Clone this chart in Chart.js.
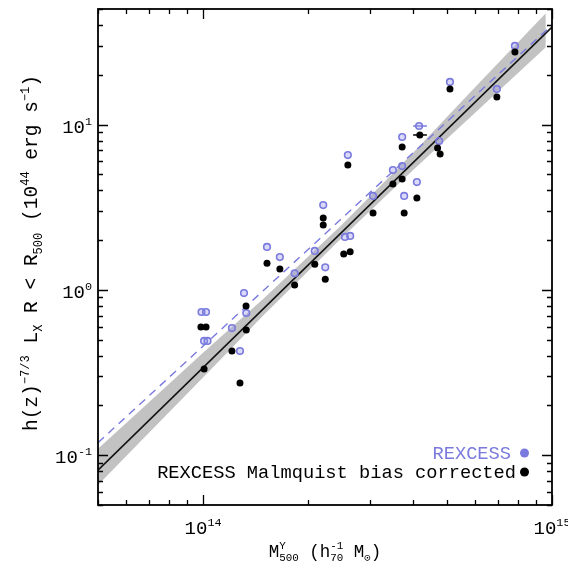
<!DOCTYPE html>
<html><head><meta charset="utf-8">
<script src="https://cdn.jsdelivr.net/npm/chart.js@4/dist/chart.umd.min.js"></script>
<style>html,body{margin:0;padding:0;background:#fff;}canvas{display:block;}</style>
</head><body>
<canvas id="c" width="568" height="565"></canvas>
<script>
// ---- data ----
const rexcessMass = [0.99e14, 1.02e14, 1.007e14, 1.03e14, 1.21e14, 1.276e14, 1.31e14, 1.33e14, 1.525e14, 1.66e14, 1.83e14, 2.09e14, 2.21e14, 2.24e14, 2.55e14, 2.64e14, 2.60e14, 3.07e14, 3.50e14, 3.72e14, 3.72e14, 4.16e14, 3.77e14, 4.10e14, 4.75e14, 5.10e14, 6.95e14, 7.83e14];
const rexcessLum  = [0.735, 0.735, 0.491, 0.491, 0.588, 0.427, 0.957, 0.725, 1.82, 1.58, 1.26, 1.72, 3.26, 1.37, 2.09, 2.12, 6.54, 3.70, 5.31, 5.61, 8.41, 9.80, 3.70, 4.49, 7.95, 18.1, 16.4, 29.9];
const correctedMass = [0.986e14, 1.02e14, 1.007e14, 1.21e14, 1.276e14, 1.328e14, 1.33e14, 1.525e14, 1.66e14, 1.83e14, 2.09e14, 2.21e14, 2.21e14, 2.24e14, 2.53e14, 2.64e14, 2.60e14, 3.07e14, 3.50e14, 3.72e14, 3.72e14, 4.18e14, 3.77e14, 4.10e14, 4.70e14, 4.78e14, 5.10e14, 6.95e14, 7.83e14];
const correctedLum  = [0.596, 0.596, 0.332, 0.427, 0.273, 0.798, 0.572, 1.45, 1.34, 1.07, 1.43, 2.72, 2.47, 1.16, 1.65, 1.70, 5.69, 2.92, 4.37, 4.69, 7.31, 8.65, 2.92, 3.60, 7.21, 6.63, 16.4, 14.7, 27.5];
// horizontal error bars (mass range) for one cluster
const errRexcess   = {mass: [4.0e14, 4.38e14], lum: 9.80};
const errCorrected = {mass: [4.0e14, 4.38e14], lum: 8.65};
// fitted relations
const fitMass = [5e13, 1e15];
const fitCorrectedLum = [0.0813, 38.9];
const fitRexcessLum = [0.119, 40.0];
// confidence band around the corrected fit
const bandMass  = [5e13, 7e13, 1e14, 1.5e14, 2.5e14, 4e14, 6e14, 9.6e14];
const bandUpper = [0.1096, 0.2094, 0.417, 0.897, 2.48, 6.76, 16.7, 47.1];
const bandLower = [0.0661, 0.1368, 0.295, 0.713, 2.07, 5.31, 11.7, 29.4];
// axis ticks
const xRange = [5e13, 1e15];
const yRange = [0.05, 50];
const xMajor = [{v: 1e14, base: '10', exp: '14'}, {v: 1e15, base: '10', exp: '15'}];
const yMajor = [{v: 0.1, base: '10', exp: '-1'}, {v: 1, base: '10', exp: '0'}, {v: 10, base: '10', exp: '1'}];
const legendLabels = ['REXCESS', 'REXCESS Malmquist bias corrected'];

const BLUE = '#7a7ade';
const FAM = '"Liberation Mono", monospace';

function pts(xs, ys) { return xs.map((x, i) => ({x: x, y: ys[i]})); }

function richWidth(ctx, segs, size) {
  let w = 0;
  for (const s of segs) {
    if (s.stack) {
      ctx.font = (size * 0.62) + 'px ' + FAM;
      w += Math.max(ctx.measureText(s.stack[0]).width, ctx.measureText(s.stack[1]).width);
    } else {
      ctx.font = ((s.sup || s.sub) ? size * 0.62 : size) + 'px ' + FAM;
      w += ctx.measureText(s.t).width;
    }
  }
  return w;
}
function drawRich(ctx, segs, x, y, align, size, color) {
  const w = richWidth(ctx, segs, size);
  let cx = align === 'center' ? x - w / 2 : (align === 'right' ? x - w : x);
  ctx.fillStyle = color; ctx.textAlign = 'left'; ctx.textBaseline = 'alphabetic';
  for (const s of segs) {
    if (s.stack) {
      ctx.font = (size * 0.62) + 'px ' + FAM;
      const w1 = ctx.measureText(s.stack[0]).width, w2 = ctx.measureText(s.stack[1]).width;
      ctx.fillText(s.stack[0], cx, y - size * 0.45);
      ctx.fillText(s.stack[1], cx, y + size * 0.25);
      cx += Math.max(w1, w2);
    } else if (s.sup) {
      ctx.font = (size * 0.62) + 'px ' + FAM;
      ctx.fillText(s.t, cx, y - size * 0.42);
      cx += ctx.measureText(s.t).width;
    } else if (s.sub) {
      ctx.font = (size * 0.62) + 'px ' + FAM;
      ctx.fillText(s.t, cx, y + size * 0.25);
      cx += ctx.measureText(s.t).width;
    } else {
      ctx.font = size + 'px ' + FAM;
      ctx.fillText(s.t, cx, y);
      cx += ctx.measureText(s.t).width;
    }
  }
}

function logTicks(min, max) {
  const out = [];
  for (let e = Math.floor(Math.log10(min)); e <= Math.ceil(Math.log10(max)); e++) {
    for (let k = 1; k <= 9; k++) {
      const v = k * Math.pow(10, e);
      if (v >= min * 0.9999 && v <= max * 1.0001) out.push({v: v, major: k === 1});
    }
  }
  return out;
}

const framePlugin = {
  id: 'frame',
  afterDatasetsDraw(chart) {
    const ctx = chart.ctx, a = chart.chartArea;
    const xs = chart.scales.x, ys = chart.scales.y;
    ctx.save();
    ctx.strokeStyle = '#000'; ctx.lineWidth = 1.8;
    ctx.strokeRect(a.left, a.top, a.right - a.left, a.bottom - a.top);
    ctx.lineWidth = 1.3;
    ctx.beginPath();
    for (const t of logTicks(xRange[0], xRange[1])) {
      const px = Math.round(xs.getPixelForValue(t.v)) + 0.5;
      const len = t.major ? 10 : 5;
      ctx.moveTo(px, a.bottom); ctx.lineTo(px, a.bottom - len);
      ctx.moveTo(px, a.top); ctx.lineTo(px, a.top + len);
    }
    for (const t of logTicks(yRange[0], yRange[1])) {
      const py = Math.round(ys.getPixelForValue(t.v)) + 0.5;
      const len = t.major ? 10 : 5;
      ctx.moveTo(a.left, py); ctx.lineTo(a.left + len, py);
      ctx.moveTo(a.right, py); ctx.lineTo(a.right - len, py);
    }
    ctx.stroke();
    // tick labels
    for (const t of xMajor) {
      const px = xs.getPixelForValue(t.v);
      drawRich(ctx, [{t: t.base}, {t: t.exp, sup: true}], px, a.bottom + 29, 'center', 19, '#000');
    }
    for (const t of yMajor) {
      const py = ys.getPixelForValue(t.v);
      drawRich(ctx, [{t: t.base}, {t: t.exp, sup: true}], a.left - 6, py + 8, 'right', 19, '#000');
    }
    // axis titles
    drawRich(ctx, [{t: 'M'}, {stack: ['Y', '500']}, {t: ' (h'}, {stack: ['-1', '70']}, {t: ' M'}, {t: '\u2299', sub: true}, {t: ')'}],
      (a.left + a.right) / 2, 557, 'center', 17.5, '#000');
    ctx.save();
    ctx.translate(37, (a.top + a.bottom) / 2 - 4);
    ctx.rotate(-Math.PI / 2);
    drawRich(ctx, [{t: 'h(z)'}, {t: '\u22127/3', sup: true}, {t: ' L'}, {t: 'X', sub: true}, {t: ' R < R'}, {t: '500', sub: true},
      {t: ' (10'}, {t: '44', sup: true}, {t: ' erg s'}, {t: '\u22121', sup: true}, {t: ')'}], 0, 0, 'center', 19.5, '#000');
    ctx.restore();
    // legend
    drawRich(ctx, [{t: legendLabels[0]}], 511, 459, 'right', 18.7, BLUE);
    drawRich(ctx, [{t: legendLabels[1]}], 516, 478, 'right', 18.7, '#000');
    ctx.fillStyle = BLUE; ctx.beginPath(); ctx.arc(524.5, 453, 4.5, 0, Math.PI * 2); ctx.fill();
    ctx.fillStyle = '#000'; ctx.beginPath(); ctx.arc(524.5, 472, 4.5, 0, Math.PI * 2); ctx.fill();
    ctx.restore();
  }
};

new Chart(document.getElementById('c').getContext('2d'), {
  type: 'scatter',
  data: {
    datasets: [
      {label: 'band low', data: pts(bandMass, bandLower), showLine: true, pointRadius: 0, borderWidth: 0, borderColor: 'rgba(0,0,0,0)', fill: false, order: 20},
      {label: 'band high', data: pts(bandMass, bandUpper), showLine: true, pointRadius: 0, borderWidth: 0, borderColor: 'rgba(0,0,0,0)', backgroundColor: '#c2c2c2', fill: '-1', order: 19},
      {label: 'fit corrected', data: pts(fitMass, fitCorrectedLum), showLine: true, pointRadius: 0, borderColor: '#111', borderWidth: 1.6, order: 18},
      {label: 'fit rexcess', data: pts(fitMass, fitRexcessLum), showLine: true, pointRadius: 0, borderColor: BLUE, borderWidth: 1.4, borderDash: [8, 6], order: 17},
      {label: 'err rexcess', data: pts(errRexcess.mass, [errRexcess.lum, errRexcess.lum]), showLine: true, pointRadius: 0, borderColor: BLUE, borderWidth: 1.5, order: 16},
      {label: legendLabels[0], data: pts(rexcessMass, rexcessLum), pointRadius: 3.3, pointBorderWidth: 1.6, pointBorderColor: BLUE, pointBackgroundColor: 'rgba(150,150,235,0.35)', order: 15},
      {label: 'err corrected', data: pts(errCorrected.mass, [errCorrected.lum, errCorrected.lum]), showLine: true, pointRadius: 0, borderColor: '#000', borderWidth: 1.5, order: 14},
      {label: legendLabels[1], data: pts(correctedMass, correctedLum), pointRadius: 3.5, pointBorderWidth: 0, pointBackgroundColor: '#000', order: 13}
    ]
  },
  options: {
    responsive: false,
    animation: false,
    devicePixelRatio: 1,
    layout: {padding: {left: 98, right: 16, top: 9, bottom: 60}},
    plugins: {legend: {display: false}, tooltip: {enabled: false}},
    scales: {
      x: {type: 'logarithmic', min: xRange[0], max: xRange[1], display: false},
      y: {type: 'logarithmic', min: yRange[0], max: yRange[1], display: false}
    }
  },
  plugins: [framePlugin]
});
</script>
</body></html>
